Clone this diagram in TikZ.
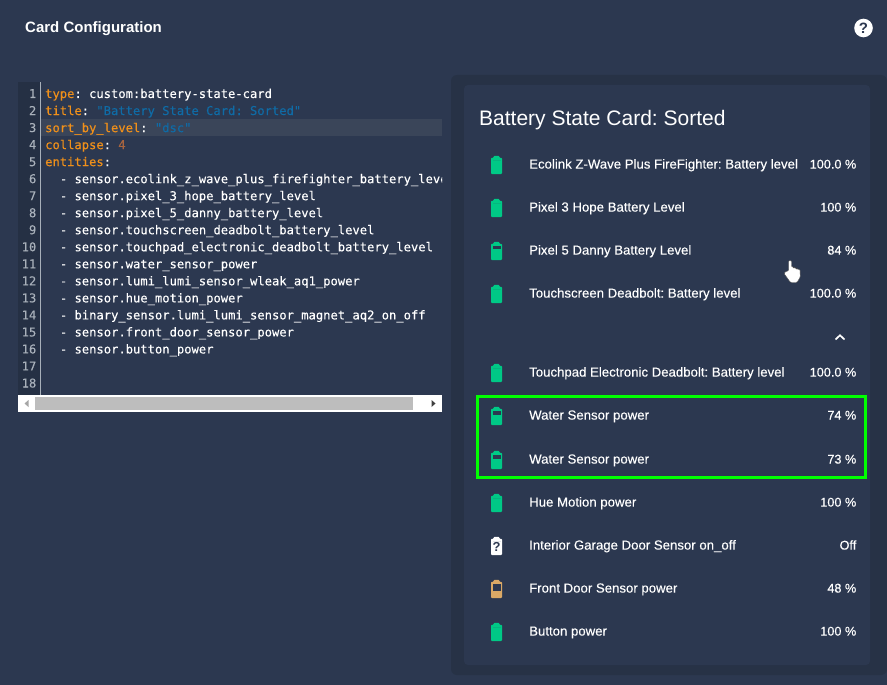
\documentclass[tikz,border=0pt]{standalone}
\usepackage{fontspec}
\setmainfont{Liberation Sans}
\setmonofont{DejaVu Sans Mono}
\newfontfamily\rowfont[FakeBold=0.25]{Liberation Sans}
\newfontfamily\codefont[FakeBold=0.2]{DejaVu Sans Mono}
\usepackage{xcolor}
\usetikzlibrary{arrows, positioning, calc}

\definecolor{pagebg}{HTML}{2C3850}
\definecolor{panelbg}{HTML}{273246}
\definecolor{gutterbg}{HTML}{253044}
\definecolor{activebg}{HTML}{3A4559}
\definecolor{keycol}{HTML}{F0901A}
\definecolor{strcol}{HTML}{0F6BA6}
\definecolor{numcol}{HTML}{A9653F}
\definecolor{gutternum}{HTML}{A8B0BA}
\definecolor{battgreen}{HTML}{00C986}
\definecolor{batttan}{HTML}{DBA966}
\definecolor{markgreen}{HTML}{00FF00}

\begin{document}
\frenchspacing
\begin{tikzpicture}[x=1pt,y=-1pt,
	code node/.style={anchor=base west,inner sep=0pt,text=white,font=\codefont\fontsize{12.15}{14}\selectfont},
	num node/.style={anchor=base east,inner sep=0pt,text=gutternum,font=\codefont\fontsize{12.15}{14}\selectfont},
	row node/.style={anchor=base west,inner sep=0pt,text=white,font=\rowfont\fontsize{13.2}{15}\selectfont},
	value node/.style={anchor=base east,inner sep=0pt,text=white,font=\rowfont\fontsize{12.7}{15}\selectfont},
	pics/battery/.style 2 args={code={
		\fill[#1,rounded corners=0.8pt] (-5.5,-7.2) -- (-2.8,-7.2) -- (-2.8,-9.2) -- (2.8,-9.2) -- (2.8,-7.2) -- (5.5,-7.2) -- (5.5,9) -- (-5.5,9) -- cycle;
		\fill[pagebg] (-4,-5) rectangle (4,-5+#2);
	}}]

	\useasboundingbox (0,0) rectangle (887,685);
	\fill[pagebg] (0,0) rectangle (887,685);

	% header
	\node[anchor=base west,inner sep=0pt,text=white,font=\bfseries\fontsize{15}{17}\selectfont] (header) at (25,32.5) {Card Configuration};
	\fill[white] (863.5,28) circle (9.3);
	\node[inner sep=0pt,text=pagebg,font=\bfseries\fontsize{15}{17}\selectfont] (help) at (863.5,28) {?};

	% editor
	\fill[gutterbg] (18,82) rectangle (40,395);
	\fill[activebg] (41,119) rectangle (442,136);
	\draw[gutternum,line width=0.8pt] (40.5,82) -- (40.5,395);
	\foreach \n [evaluate=\n as \ypos using 98+17.03*(\n-1)] in {1,...,18}
		\node[num node] (num\n) at (36.5,\ypos) {\n};

	\node[code node] (line1) at (45,98) {\textcolor{keycol}{type}: custom:battery-state-card};
	\node[code node] (line2) at (45,115) {\textcolor{keycol}{title}: \textcolor{strcol}{"Battery State Card: Sorted"}};
	\node[code node] (line3) at (45,132.1) {\textcolor{keycol}{sort\_by\_level}: \textcolor{strcol}{"dsc"}};
	\node[code node] (line4) at (45,149.1) {\textcolor{keycol}{collapse}: \textcolor{numcol}{4}};
	\node[code node] (line5) at (45,166.1) {\textcolor{keycol}{entities}:};
	\begin{scope}
		\clip (41,170) rectangle (442,190);
		\node[code node] (line6) at (59.7,183.2) {- sensor.ecolink\_z\_wave\_plus\_firefighter\_battery\_level};
	\end{scope}
	\foreach \n/\txt in {7/sensor.pixel\_3\_hope\_battery\_level,
		8/sensor.pixel\_5\_danny\_battery\_level,
		9/sensor.touchscreen\_deadbolt\_battery\_level,
		10/sensor.touchpad\_electronic\_deadbolt\_battery\_level,
		11/sensor.water\_sensor\_power,
		12/sensor.lumi\_lumi\_sensor\_wleak\_aq1\_power,
		13/sensor.hue\_motion\_power,
		14/binary\_sensor.lumi\_lumi\_sensor\_magnet\_aq2\_on\_off,
		15/sensor.front\_door\_sensor\_power,
		16/sensor.button\_power}
		\node[code node] (line\n) at (59.7,{98+17.03*(\n-1)}) {- \txt};

	% scrollbar
	\fill[white] (18,395) rectangle (442,412);
	\fill[black!26] (35,397) rectangle (413,410);
	\fill[black!35] (28.5,400) -- (28.5,407) -- (24.5,403.5) -- cycle;
	\fill[black!75] (431.5,400) -- (431.5,407) -- (435.5,403.5) -- cycle;

	% preview card
	\fill[panelbg,rounded corners=6pt] (451,75) rectangle (887,675);
	\fill[pagebg,rounded corners=4pt] (464,85) rectangle (870,665);
	\node[anchor=base west,inner sep=0pt,text=white,font=\fontsize{21}{25}\selectfont] (title) at (479,125) {Battery State Card: Sorted};

	\foreach \y/\name/\label/\val/\col/\lvl in {
		164/ecolink/Ecolink Z-Wave Plus FireFighter: Battery level/100.0 \%/battgreen/0,
		207/hope/Pixel 3 Hope Battery Level/100 \%/battgreen/0,
		250/danny/Pixel 5 Danny Battery Level/84 \%/battgreen/3.3,
		293/touchscreen/Touchscreen Deadbolt: Battery level/100.0 \%/battgreen/0,
		372/touchpad/Touchpad Electronic Deadbolt: Battery level/100.0 \%/battgreen/0,
		415/waterA/Water Sensor power/74 \%/battgreen/4.4,
		459/waterB/Water Sensor power/73 \%/battgreen/4.4,
		502/hue/Hue Motion power/100 \%/battgreen/0,
		588/front/Front Door Sensor power/48 \%/batttan/6.7,
		631/button/Button power/100 \%/battgreen/0}
	{
		\pic at (496.5,\y+1) {battery={\col}{\lvl}};
		\node[row node] (\name) at (529,\y+4.6) {\label};
		\node[value node] (\name val) at (856.5,\y+4.6) {\val};
	}

	% unknown state row
	\pic at (496.5,546) {battery={white}{0}};
	\node[inner sep=0pt,text=pagebg,font=\bfseries\fontsize{13}{15}\selectfont] (garage icon) at (496.5,546.8) {?};
	\node[row node] (garage) at (529,549.6) {Interior Garage Door Sensor on\_off};
	\node[value node] (garage val) at (856.5,549.6) {Off};

	% collapse chevron
	\draw[white,line width=1.7pt] (835.5,339.5) -- (840,335.3) -- (844.5,339.5);

	% highlight
	\draw[markgreen,line width=3pt] (477.5,396.5) rectangle (865.5,477.5);

	% hand cursor
	\draw[black!70,fill=white,line width=0.4pt,rounded corners=1pt] (788.5,271) -- (788.5,260.5) -- (791.5,260.5) -- (791.5,267) -- (794,267) -- (794,268) -- (796.5,268) -- (796.5,269) -- (800,269.5) -- (800.3,277) -- (797,282.5) -- (790.5,282.5) -- (784,273.5) -- (785.5,271.5) -- cycle;
\end{tikzpicture}
\end{document}
